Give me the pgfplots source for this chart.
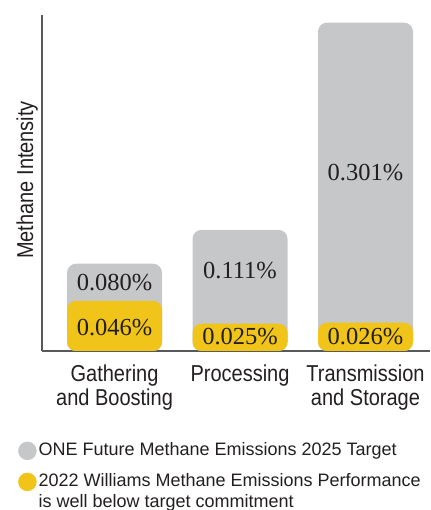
\documentclass[border=0pt]{standalone}
\usepackage{pgfplots}
\pgfplotsset{compat=1.18}
\usepackage{pgfplotstable}
\usepackage{fontspec}
\setmainfont{Liberation Sans}
\newfontfamily\serifnum{Liberation Serif}
\definecolor{ggrey}{HTML}{C6C7C9}
\definecolor{gyel}{HTML}{F0C419}
\definecolor{txt}{HTML}{231F20}
\definecolor{axc}{HTML}{58595B}

\pgfplotstableread{
x g w
0 0.080 0.046
1 0.111 0.025
2 0.301 0.026
}\datatab

\begin{document}
\begin{tikzpicture}
\path[use as bounding box] (0,0) rectangle (430pt,510pt);
\begin{axis}[
  scale only axis, width=388pt, height=336pt,
  at={(42pt,159pt)}, anchor=south west,
  xmin=-0.578, xmax=2.514, ymin=0, ymax=0.308,
  y coord trafo/.code={\pgfmathparse{#1+0.03}},
  y coord inv trafo/.code={\pgfmathparse{#1-0.03}},
  axis x line*=bottom, axis y line*=left,
  axis line style={-, draw=axc, line width=1.4pt},
  ytick=\empty,
  xtick={0,1,2}, major tick length=0pt,
  xticklabels={{Gathering\\and Boosting},{Processing},{Transmission\\and Storage}},
  xticklabel style={align=center, font=\fontsize{23}{24}\selectfont, text=txt, anchor=north, inner sep=0pt, yshift=-14pt, xscale=0.87},
  ylabel={Methane Intensity},
  every axis y label/.style={at={(axis description cs:-0.0232,0.509)}, rotate=90, xscale=0.87, anchor=base, font=\fontsize{23}{24}\selectfont, text=txt},
  legend style={at={(axis description cs:0,0)}, anchor=north west, xshift=-24pt, yshift=-89pt, draw=none, fill=none, inner sep=0pt, font=\fontsize{18}{20.5}\selectfont, text=txt, row sep=10.5pt, /tikz/every even column/.append style={column sep=5pt}},
  legend cell align=left,
]
\addplot[ybar, bar width=95pt, bar shift=0pt, fill=ggrey, draw=none, rounded corners=9pt, forget plot] table[x=x,y=g]{\datatab};
\addplot[ybar, bar width=95pt, bar shift=0pt, fill=gyel, draw=none, rounded corners=9pt, forget plot] table[x=x,y=w]{\datatab};
\addplot[forget plot, draw=none, mark=none, nodes near coords, point meta=explicit symbolic,
  every node near coord/.append style={anchor=center, font=\serifnum\fontsize{24.5}{26}\selectfont, text=txt, inner sep=0pt}]
  coordinates {(0,0.0626)[0.080\%] (1,0.0736)[0.111\%] (2,0.164)[0.301\%] (0,0.0212)[0.046\%] (1,0.0129)[0.025\%] (2,0.0129)[0.026\%]};
\addlegendimage{legend image code/.code={\fill[ggrey] (9pt,-1.4pt) circle (9pt);}}
\addlegendentry{ONE Future Methane Emissions 2025 Target}
\addlegendimage{legend image code/.code={\fill[gyel] (9pt,-1.4pt) circle (9pt);}}
\addlegendentry{\begin{tabular}[t]{@{}l@{}}2022 Williams Methane Emissions Performance\\is well below target commitment\end{tabular}}
\end{axis}
\end{tikzpicture}
\end{document}
